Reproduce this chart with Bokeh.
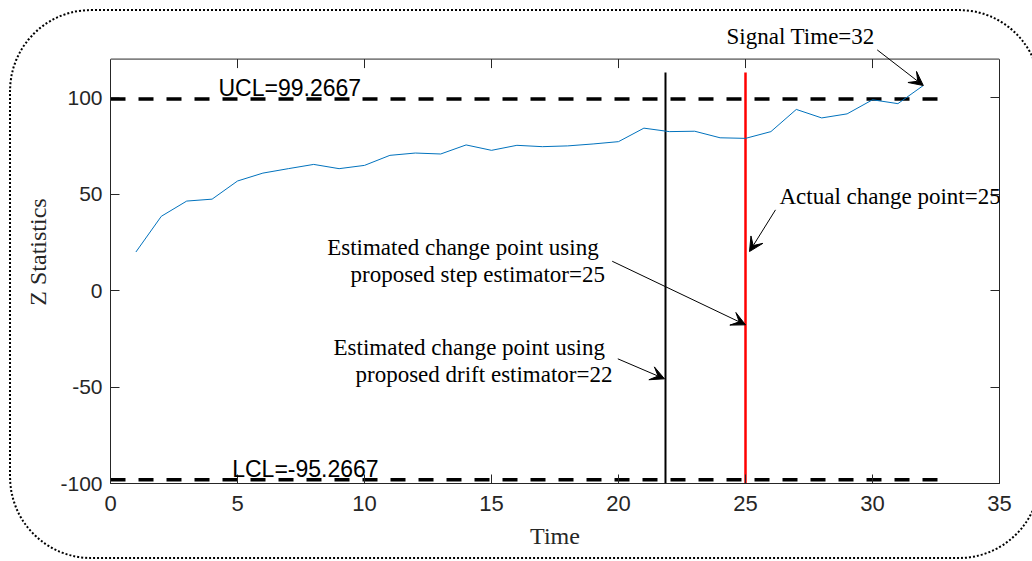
from bokeh.plotting import figure
from bokeh.models import (Label, Arrow, VeeHead, LinearAxis, Range1d, FixedTicker,
                          CustomJSTickFormatter, InlineStyleSheet)
from bokeh.embed import file_html
from bokeh.resources import INLINE

# ---------------- data ----------------
time = list(range(1, 33))
z_stat = [20.0, 38.5, 46.4, 47.4, 56.8, 60.9, 63.2, 65.4, 63.2, 64.9,
          70.1, 71.3, 70.8, 75.5, 72.7, 75.3, 74.6, 75.0, 76.0, 77.2,
          84.2, 82.4, 82.6, 79.2, 78.9, 82.4, 93.9, 89.5, 91.6, 98.9,
          96.9, 106.3]
ucl = 99.2667
lcl_label = -95.2667
lcl_drawn = -98.0
limit_x = [0, 33]
actual_cp = 25
drift_cp_drawn = 21.85
signal_time = 32
cp_line_y = [-100, 113]
x_ticks = [0, 5, 10, 15, 20, 25, 30, 35]
y_ticks = [-100, -50, 0, 50, 100]
y_tick_labels = ["-100", "-50", "0", "50", "100"]

# ---------------- layout ----------------
W, H = 1032, 561
X0, X1 = 0, 35
Y0, Y_BOX, Y1 = -100, 120, 140          # axes box ends at 120, frame extends for the top note
FL, FR, FB = 110, 999, 483
FT = FB - (FB - 58.5) * (Y1 - Y0) / (Y_BOX - Y0)
TICK = 9


def px(xp):
    return X0 + (xp - FL) * (X1 - X0) / (FR - FL)


def py(yp):
    return Y1 - (yp - FT) * (Y1 - Y0) / (FB - FT)


p = figure(width=W, height=H, x_range=Range1d(X0, X1), y_range=Range1d(Y0, Y1),
           output_backend="svg", toolbar_location=None,
           min_border_left=FL, min_border_right=W - FR,
           min_border_top=int(round(FT)), min_border_bottom=H - FB)
p.background_fill_color = "white"
p.border_fill_color = "white"
p.outline_line_color = None
p.grid.visible = False

axis_col = "#262626"
for ax in p.xaxis + p.yaxis:
    ax.axis_line_color = axis_col
    ax.major_tick_line_color = axis_col
    ax.major_tick_in = TICK
    ax.major_tick_out = 0
    ax.minor_tick_line_color = None
    ax.major_label_text_font = "Liberation Sans"
    ax.major_label_text_color = axis_col
    ax.axis_label_text_font = "Liberation Serif"
    ax.axis_label_text_font_size = "24px"
    ax.axis_label_text_font_style = "normal"
    ax.axis_label_text_color = axis_col

p.xaxis.ticker = FixedTicker(ticks=x_ticks)
p.yaxis.ticker = FixedTicker(ticks=y_ticks)
p.yaxis.major_label_overrides = dict(zip(y_ticks, y_tick_labels))
p.yaxis.bounds = (Y0, Y_BOX)
p.xaxis.major_label_text_font_size = "22px"
p.yaxis.major_label_text_font_size = "21px"
p.xaxis.axis_label = "Time"
p.yaxis.axis_label = "Z Statistics"
p.xaxis.major_label_standoff = 12
p.yaxis.major_label_standoff = 8
p.xaxis.axis_label_standoff = 9
p.yaxis.axis_label_standoff = 6

rax = LinearAxis(ticker=FixedTicker(ticks=y_ticks), bounds=(Y0, Y_BOX),
                 formatter=CustomJSTickFormatter(code="return ''"))
rax.axis_line_color = axis_col
rax.major_tick_line_color = axis_col
rax.major_tick_in = TICK
rax.major_tick_out = 0
rax.minor_tick_line_color = None
rax.major_label_standoff = 0
p.add_layout(rax, "right")

# top edge of the axes box with its ticks
ppu = (FB - FT) / (Y1 - Y0)
p.line([X0, X1], [Y_BOX, Y_BOX], line_color=axis_col, line_width=1)
p.segment(x0=x_ticks, y0=[Y_BOX] * len(x_ticks), x1=x_ticks,
          y1=[Y_BOX - TICK / ppu] * len(x_ticks), line_color=axis_col, line_width=1)

# limits
p.line(limit_x, [ucl, ucl], line_color="black", line_width=3.5, line_dash="15 13")
p.line(limit_x, [lcl_drawn, lcl_drawn], line_color="black", line_width=3.5, line_dash="15 13")

# change point lines
p.line([drift_cp_drawn, drift_cp_drawn], cp_line_y, line_color="black", line_width=2)
p.line([actual_cp, actual_cp], cp_line_y, line_color="#FF0000", line_width=2.5)

# statistic
p.line(time, z_stat, line_color="#0072BD", line_width=1)

# texts (y given as text baseline in page px; drawn centred 7.5px above it)
sans = dict(text_font="Liberation Sans", text_font_size="23px", text_color="black",
            text_baseline="middle", text_align="left")
serif = dict(text_font="Liberation Serif", text_font_size="23px", text_color="black",
             text_baseline="middle", text_align="left")
M = 7.5

p.add_layout(Label(x=px(218), y=py(95 - M), text="UCL=%.4f" % ucl, **sans))
p.add_layout(Label(x=px(231.7), y=py(476 - M), text="LCL=%.4f" % lcl_label, **sans))
p.add_layout(Label(x=px(726), y=py(43 - M), text="Signal Time=%d" % signal_time, **serif))
p.add_layout(Label(x=px(779), y=py(203 - M), text="Actual change point=%d" % actual_cp, **serif))
p.add_layout(Label(x=px(326.7), y=py(254.3 - M), text="Estimated change point using", **serif))
p.add_layout(Label(x=px(350), y=py(281.7 - M), text="proposed step estimator=25", **serif))
p.add_layout(Label(x=px(333), y=py(354 - M), text="Estimated change point using", **serif))
p.add_layout(Label(x=px(355), y=py(381 - M), text="proposed drift estimator=22", **serif))


# arrows
def arrow(x0, y0, x1, y1):
    p.add_layout(Arrow(end=VeeHead(size=14, fill_color="black", line_color="black", line_width=1),
                       x_start=x0, y_start=y0, x_end=x1, y_end=y1,
                       line_color="black", line_width=1))


arrow(px(876.7), py(49.3), signal_time, z_stat[-1])
arrow(px(775), py(209.3), px(749), py(251))
arrow(px(611.7), py(260.7), px(745), py(324.3))
arrow(px(617.3), py(358.3), px(664), py(378.3))

# dotted rounded border around the whole figure (its right side runs off the picture)
p.stylesheets = [InlineStyleSheet(css="""
:host { position: relative; overflow: hidden; }
:host::after {
  content: '';
  position: absolute;
  left: 9px; top: 9px;
  width: 1032px; height: 550px;
  box-sizing: border-box;
  border: 2.6px dotted black;
  border-radius: 82px;
  pointer-events: none;
}
""")]

open("out.html", "w").write(file_html(p, INLINE))
